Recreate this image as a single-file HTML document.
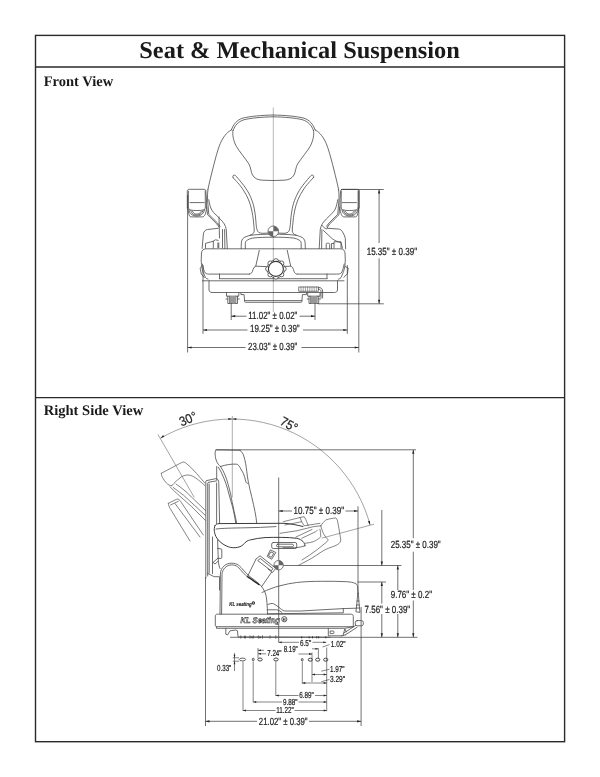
<!DOCTYPE html>
<html><head><meta charset="utf-8">
<style>
html,body{margin:0;padding:0;background:#fff;}
body{width:600px;height:777px;position:relative;overflow:hidden;font-family:"Liberation Sans",sans-serif;}
svg{position:absolute;left:0;top:0;}
text{text-rendering:geometricPrecision;}
.t{font-family:"Liberation Serif",serif;font-weight:bold;fill:#1a1a1a;}
.d{font-family:"Liberation Sans",sans-serif;fill:#222;font-size:10.4px;stroke:#222;stroke-width:0.22;}
.l{fill:none;stroke:#484848;stroke-width:0.8;stroke-linecap:round;stroke-linejoin:round;}
.g{fill:none;stroke:#888;stroke-width:0.6;}
.dm{fill:none;stroke:#333;stroke-width:0.7;}
</style></head><body>
<svg style="will-change:transform;opacity:0.999" width="600" height="777" viewBox="0 0 600 777">
<!-- FRAME -->
<g fill="none" stroke="#2a2a2a" stroke-width="1.4">
<rect x="35.5" y="35.4" width="529.1" height="706.3"/>
<line x1="35.5" y1="66.95" x2="564.6" y2="66.95"/>
<line x1="35.5" y1="397.6" x2="564.6" y2="397.6"/>
</g>
<text class="t" x="139.3" y="58.2" font-size="24" textLength="320.5" lengthAdjust="spacingAndGlyphs">Seat &amp; Mechanical Suspension</text>
<text class="t" x="43.7" y="85.5" font-size="14.6" textLength="69.5" lengthAdjust="spacingAndGlyphs">Front View</text>
<text class="t" x="43.7" y="415" font-size="14.6" textLength="99.5" lengthAdjust="spacingAndGlyphs">Right Side View</text>
<!-- FRONTVIEW_START -->
<g id="front">
<!-- centerline -->
<line class="g" x1="273.3" y1="107.5" x2="273.3" y2="312"/>
<!-- symmetric half (left), mirrored -->
<defs><g id="fh">
<!-- headrest top double line -->
<path class="l" d="M273,115 C262,115.3 250,116.2 242.5,118.2 C237,120 233.5,124 231.3,130"/>
<path class="l" d="M273,116.8 C262,117 251,118 243.8,119.8 C238.5,121.6 235,125 233,130.5"/>
<!-- shoulder outer -->
<path class="l" d="M231.3,130 C228,131.5 224.5,135 221.3,141.3 C218.5,147 216.3,155 212.5,170 C210.5,178 208.8,185 207.9,189.7"/>
<path class="l" d="M207.9,189.7 C207.6,192.5 207.5,195 207.5,198 C207.5,200 207.7,202 207.9,203.8 L208.75,214.3 L217.5,223 L220,226.3"/>
<path class="l" d="M208.75,199.7 C209.3,203 210,205.8 210.8,208 C211.5,209.7 212.3,211 213.3,212.2 L220,218.8 C221.6,220.4 223,222 224.2,223.8 C225.3,225.6 226,227.5 226.25,229.7 L227.3,248.6"/>
<path class="l" d="M206.8,207 L207.5,214.7 L216.7,223.8 L219.2,227.2"/>
<path class="l" d="M224.6,229.5 L224.9,248.6"/>
<!-- inner headrest panel -->
<path class="l" d="M233,130.5 C232.3,134 233,140 236.3,146.3 C239,151 245,158 248.8,163.8 C251,167.5 250.8,172 252.5,175 C254.5,178.5 258,180 262.5,180.2 L273,180.5"/>
<!-- Y ribs -->
<path class="l" d="M233.2,177.8 C232.4,176.6 232.8,175.5 233.9,175.2 C234.8,175 235.5,175.4 236.1,176.2 C240,180.6 243.5,185 245.8,188.3 C248,191.5 249.5,194.5 250.8,197.5 C252.5,201.5 253.5,205 254.2,208.3 C255,212.5 255.5,216 255.8,220 C256.1,223.5 256.2,226 256.7,228.3 C257.2,230.5 257.6,231.5 258.5,232.2 C259.6,233 261,233.3 262.5,233.3 L268,233.1"/>
<path class="l" d="M233.2,177.8 C235,179.7 236.3,181 237.5,182.5 C240,185.2 241.8,187.6 243.3,190 C245.3,193 247,196 248.3,199.2 C249.9,203 251,206.5 251.7,210 C252.5,214 253,217 253.3,220 C253.7,224 254.2,227.5 254.2,230 C254.2,231.6 254,232.5 253.3,233.3 C252.5,234.3 251.5,234.8 250,235.3 C248,236 246,236.6 244.2,237.5 C243,238.2 242.2,239.3 241.7,240.8 C241.3,242.5 241.2,245 241.2,248.6"/>
<!-- handle -->
<path class="l" d="M245.3,248.6 L245.3,243.3 C245.5,241.5 246.2,240.6 247.5,240 C249,239.1 250.6,238.5 252.5,238.1 C258,237.4 266,237.2 273.3,237.2"/>
<path class="l" d="M250,235.3 C256,234.5 264,234.2 273.3,234.2"/>
<!-- cushion -->
<path class="l" d="M273.3,248.8 L206,248.8 C203,249 201.7,250.5 201.5,253 L201.2,260 C201.3,263 201.6,266 202,268 C202.5,270.5 203.2,272.5 204,274 C204.5,275.5 205,276.6 205.5,277.5 C206.2,278.5 207,278.9 208,279.1"/>
<path class="l" d="M202.3,264 C203.3,268.5 204,271.5 205.3,273 C206.3,274 208,274.1 210,274.1 L249.3,274.1"/>
<path class="l" d="M219.5,274 L219.5,278.5"/>
<path class="l" d="M219.5,278.7 L273.3,278.7"/>
<!-- centre column -->
<path class="l" d="M259.3,250.3 L255.8,266 C255.3,266.8 254.7,267 254,267.4 C253.2,268.8 252.8,270.3 252.3,271.8 C251.6,273.3 250.6,274 249.3,274.1"/>
<path class="l" d="M255.8,266.2 L266.5,266.6"/>

<!-- base plate -->
<path class="l" d="M209,280.8 L209,290 C209.2,291.6 210.2,292.4 212,292.5 L273.3,292.5"/>
<path class="l" d="M202.5,280.8 L273.3,280.8"/>
<!-- bolt -->
<path class="l" d="M226.5,292.7 L226.5,296.2 L238.8,296.2 L238.8,292.7 M227.8,296.2 L227.8,303.5 L237.5,303.5 L237.5,296.2 M229.5,296.2 L229.5,303.5 M235.8,296.2 L235.8,303.5 M226,299 L227.8,299 M237.5,299 L239.3,299"/>
<path d="M229.5,296.2 h6.3 v7.3 h-6.3z" fill="#999" stroke="none"/>
<!-- armrest -->
<path class="l" d="M187.3,208 L187.3,191.2 C187.3,190 188,189.3 189.2,189.3 L204,189.3 C205.2,189.3 205.8,190 205.9,191.2 L206.5,200 L206.6,207.2 C206.4,210.5 205.8,213 205,214.7 C204.4,216 203.6,216.8 202.5,216.9 L190.8,216.9 C189.8,216.7 189.2,215.5 188.8,213.8 C188.3,212 188,210 187.9,208"/>
<path class="l" d="M190,202.6 L204.2,202.6"/>
<path class="l" d="M188.4,191 L188.4,207 C188.6,208.3 189,209.2 189.6,209.8 C194,210.8 200,210.8 204.2,209.8 C204.8,209.2 205.2,208.3 205.4,207 L205.2,191"/>
<path class="l" d="M188.8,209.8 C189.2,211.5 189.8,212.8 190.8,213.8 C192.3,215.3 194.3,216 196.7,216 C199,216 201,215.3 202.5,213.8 C203.5,212.8 204.2,211.5 204.6,209.8"/>
<path class="l" d="M190.8,210.6 C191.4,212.3 192.2,213.5 193.3,214.3 C194.3,214.9 195.4,215.1 196.7,215.1 C198.3,215.1 199.7,214.7 200.8,213.8 C201.8,213 202.5,211.9 203,210.6"/>
<path class="l" d="M192.5,211.3 C193.5,213.3 195,214.1 196.7,214.1 C198.6,214.1 200.2,213.2 201.3,211.3"/>
</g></defs>
<use href="#fh"/>
<use href="#fh" transform="translate(546.5,0) scale(-1,1)"/>
<!-- recliner left -->
<path class="l" d="M218.2,228.3 L207.5,229.5 C205,229.9 203.8,231.5 203.4,234 L202.1,248.5"/>
<path class="l" d="M205.5,248.2 L205.5,243.4 L213.3,241.2 L215.4,239.8 L218.2,240.4"/>
<path class="l" d="M213.3,241.2 L213.3,248.2"/>
<path class="l" d="M222.5,229.5 L222.5,248.2"/>
<path d="M217.3,242.5 h2 v5.5 h-2z" fill="#777"/>
<!-- recliner right -->
<path class="l" d="M327.6,228.3 L338.2,229 C340.5,229.3 341.8,230.3 342.5,231.9 C343.8,234 344.8,236 345.3,238.2 L345.6,248.9"/>
<path class="l" d="M323.4,230.5 L332.6,239 C335,240.8 338,241.8 341,242.5 L342.5,248.2"/>
<path class="l" d="M326.2,248.5 L326.2,244.2 C326.2,243.4 326.8,243.1 327.8,243.1 C329,243.1 329.7,243.5 329.7,244.3 L329.7,248.5"/>
<path class="l" d="M331.5,248.5 L331.5,243.5 L334,243.5 L334,241.8 L341,241.8 L341,248.2 M334,243.5 L334,248.2"/>
<path class="l" d="M322.6,225.7 C323.5,227.5 325,228.6 326.2,228.8 C327.2,228.8 327.5,228.2 327.6,227.4"/>
<!-- cushion tabs -->
<path class="l" d="M345.3,266.6 L348.2,268 L347.5,273.7 L343.9,277.2"/>
<path class="l" d="M201.3,266.6 L200.2,268.5 L201.3,274 L204.3,277.5"/>
<!-- lower plate -->
<path class="l" d="M240.9,293 L240.9,294.6 L244.1,294.6 L244.6,301.4 C244.7,302 245,302.3 245.6,302.3 L301,302.3 C301.6,302.3 301.9,302 301.9,301.4 L302.4,294.6 L306.5,294.6 L306.5,293"/>
<path class="l" d="M244.6,300.6 L301.9,300.6"/>
<!-- CG symbol -->
<circle cx="273.3" cy="231.3" r="5.3" fill="#fff" stroke="#555" stroke-width="0.8"/>
<path d="M273.3,231.3 L273.3,226 A5.3,5.3 0 0 1 278.6,231.3 Z M273.3,231.3 L273.3,236.6 A5.3,5.3 0 0 1 268,231.3 Z" fill="#666"/>
<!-- knob -->
<circle cx="275.90" cy="260.90" r="2.3" fill="#fff" stroke="#444" stroke-width="0.8"/>
<circle cx="281.56" cy="263.24" r="2.3" fill="#fff" stroke="#444" stroke-width="0.8"/>
<circle cx="283.90" cy="268.90" r="2.3" fill="#fff" stroke="#444" stroke-width="0.8"/>
<circle cx="281.56" cy="274.56" r="2.3" fill="#fff" stroke="#444" stroke-width="0.8"/>
<circle cx="275.90" cy="276.90" r="2.3" fill="#fff" stroke="#444" stroke-width="0.8"/>
<circle cx="270.24" cy="274.56" r="2.3" fill="#fff" stroke="#444" stroke-width="0.8"/>
<circle cx="267.90" cy="268.90" r="2.3" fill="#fff" stroke="#444" stroke-width="0.8"/>
<circle cx="270.24" cy="263.24" r="2.3" fill="#fff" stroke="#444" stroke-width="0.8"/>
<circle cx="275.9" cy="268.9" r="8.6" fill="#fff" stroke="none"/>
<path d="M277.87,260.22 A8.9,8.9 0 0 1 280.65,261.37 M283.43,264.15 A8.9,8.9 0 0 1 284.58,266.93 M284.58,270.87 A8.9,8.9 0 0 1 283.43,273.65 M280.65,276.43 A8.9,8.9 0 0 1 277.87,277.58 M273.93,277.58 A8.9,8.9 0 0 1 271.15,276.43 M268.37,273.65 A8.9,8.9 0 0 1 267.22,270.87 M267.22,266.93 A8.9,8.9 0 0 1 268.37,264.15 M271.15,261.37 A8.9,8.9 0 0 1 273.93,260.22" fill="none" stroke="#444" stroke-width="0.8"/>
<circle cx="275.9" cy="268.9" r="7.5" fill="none" stroke="#3a3a3a" stroke-width="1.15"/>
<!-- slider ribbed handle -->
<rect x="298.8" y="287" width="19.5" height="4.2" fill="#fff" stroke="#444" stroke-width="0.7"/>
<path class="l" style="stroke-width:0.5" d="M301,287 v4.2 M303.2,287 v4.2 M305.4,287 v4.2 M307.6,287 v4.2 M309.8,287 v4.2 M312,287 v4.2 M314.2,287 v4.2 M316.4,287 v4.2"/>
<path class="l" d="M318.3,287.3 C321,287.5 322.5,288.5 322.6,291 L322.6,298 M318.3,289 C320,289.2 321,290 321,291.5 L321,298"/>
<!-- left whip antenna-ish line -->
<path class="l" d="M219,217 L219.5,238" stroke-width="1"/>
<!-- DIMENSIONS -->
<g class="dm">
<line x1="231.2" y1="303" x2="231.2" y2="320"/><line x1="315" y1="303" x2="315" y2="320"/>
<line x1="203" y1="265" x2="203" y2="333.8"/><line x1="347.3" y1="265" x2="347.3" y2="333.8"/>
<line x1="187.6" y1="195" x2="187.6" y2="352.5"/><line x1="358.8" y1="190" x2="358.8" y2="352.5"/>
<line x1="231.2" y1="316.2" x2="246.5" y2="316.2"/><line x1="299.5" y1="316.2" x2="315" y2="316.2"/>
<line x1="203" y1="330" x2="247.5" y2="330"/><line x1="303" y1="330" x2="347.3" y2="330"/>
<line x1="187.6" y1="347.5" x2="245.5" y2="347.5"/><line x1="301.5" y1="347.5" x2="358.8" y2="347.5"/>
<line x1="341" y1="189.5" x2="383.8" y2="189.5"/><line x1="318" y1="303.8" x2="383.8" y2="303.8"/>
<line x1="379.1" y1="189.5" x2="379.1" y2="243"/><line x1="379.1" y1="258.3" x2="379.1" y2="303.8"/>
</g>
<g fill="#222">
<path d="M231.2,316.2 l4,-1.1 v2.2z M315,316.2 l-4,-1.1 v2.2z M203,330 l4,-1.1 v2.2z M347.3,330 l-4,-1.1 v2.2z M187.6,347.5 l4,-1.1 v2.2z M358.8,347.5 l-4,-1.1 v2.2z M379.1,189.5 l-1.1,4 h2.2z M379.1,303.8 l-1.1,-4 h2.2z"/>
</g>
<text class="d" x="248.3" y="319" textLength="49.1" lengthAdjust="spacingAndGlyphs">11.02" ± 0.02"</text>
<text class="d" x="250" y="332.3" textLength="49.7" lengthAdjust="spacingAndGlyphs">19.25" ± 0.39"</text>
<text class="d" x="248" y="350.3" textLength="49.4" lengthAdjust="spacingAndGlyphs">23.03" ± 0.39"</text>
<text class="d" x="366.7" y="255" textLength="50.3" lengthAdjust="spacingAndGlyphs">15.35" ± 0.39"</text>
</g>
<!-- FRONTVIEW_END -->
<!-- SIDEVIEW_START -->
<g id="side">
<!-- angle arc -->
<path class="dm" style="stroke:#666;stroke-width:0.6" d="M160.5,438.2 A143,143 0 0 1 370.1,525"/>
<line class="dm" style="stroke:#777;stroke-width:0.6" x1="232.3" y1="416" x2="232.3" y2="497.5"/>
<line class="dm" style="stroke:#666;stroke-width:0.6" x1="158" y1="434.5" x2="194.3" y2="497.5"/>
<line class="dm" style="stroke:#666;stroke-width:0.6" x1="374" y1="524.2" x2="321.7" y2="538.2"/>
<g fill="#222"><path d="M160.5,438.2 l2.6,-3.3 l1.1,1.9z M232.3,419 l-4,-1.1 v2.2z M232.3,419 l4,-1.1 v2.2z M370.1,525 l-2.2,-3.6 l2.1,-0.6z"/></g>
<text class="d" font-size="12" transform="translate(181.5,426.5) rotate(-23)" style="font-size:13px" textLength="18" lengthAdjust="spacingAndGlyphs">30°</text>
<text class="d" transform="translate(279,424) rotate(29)" style="font-size:13px" textLength="18" lengthAdjust="spacingAndGlyphs">75°</text>

<!-- extension & dimension lines -->
<g class="dm">
<line x1="215.5" y1="449.8" x2="416" y2="449.8"/>
<line x1="413.3" y1="449.8" x2="413.3" y2="538.2"/><line x1="413.3" y1="551.7" x2="413.3" y2="590"/><line x1="413.3" y1="600.5" x2="413.3" y2="637.3"/>
<line x1="282" y1="565.5" x2="401.5" y2="565.5"/>
<line x1="397.8" y1="565.5" x2="397.8" y2="590"/><line x1="397.8" y1="614" x2="397.8" y2="637.3"/>
<line x1="357.5" y1="582" x2="386" y2="582"/>
<line x1="381.8" y1="510" x2="381.8" y2="565.5"/><line x1="381.8" y1="582" x2="381.8" y2="603.5"/><line x1="381.8" y1="614" x2="381.8" y2="637.3"/>
<line x1="230" y1="637.3" x2="417.5" y2="637.3"/>
<line x1="278.7" y1="477.5" x2="278.7" y2="642.5"/>
<line x1="358" y1="506.3" x2="358" y2="594"/>
<line x1="361.1" y1="607" x2="361.1" y2="726"/>
<line x1="205.5" y1="577" x2="205.5" y2="726"/>
<line x1="278.7" y1="511" x2="292" y2="511"/><line x1="345.5" y1="511" x2="358" y2="511"/>
<line x1="205.5" y1="721.3" x2="257" y2="721.3"/><line x1="309" y1="721.3" x2="361.1" y2="721.3"/>
</g>
<g fill="#222"><path d="M413.3,449.8 l-1.1,4 h2.2z M413.3,637.3 l-1.1,-4 h2.2z M397.8,565.5 l-1.1,4 h2.2z M397.8,637.3 l-1.1,-4 h2.2z M381.8,582 l-1.1,4 h2.2z M381.8,565.5 l-1.1,-4 h2.2z M381.8,637.3 l-1.1,-4 h2.2z M278.7,511 l4,-1.1 v2.2z M358,511 l-4,-1.1 v2.2z M205.5,721.3 l4,-1.1 v2.2z M361.1,721.3 l-4,-1.1 v2.2z"/></g>
<text class="d" x="293.5" y="514.3" textLength="50.5" lengthAdjust="spacingAndGlyphs">10.75" ± 0.39"</text>
<text class="d" x="390.7" y="548" textLength="50" lengthAdjust="spacingAndGlyphs">25.35" ± 0.39"</text>
<text class="d" x="390.7" y="598.2" textLength="41.3" lengthAdjust="spacingAndGlyphs">9.76" ± 0.2"</text>
<text class="d" x="364.5" y="612.5" textLength="45.7" lengthAdjust="spacingAndGlyphs">7.56" ± 0.39"</text>
<text class="d" x="258.8" y="724.8" textLength="48.8" lengthAdjust="spacingAndGlyphs">21.02" ± 0.39"</text>
<!-- reclined ghost -->
<g class="l" style="stroke:#505050;stroke-width:0.7">
<path d="M161.3,473.3 L181.7,462.5 C183.3,461.8 184.5,462 185.8,463 C188.5,465 191,467.5 193.3,470 C195.8,472.6 198,475 200,477.5 L204.8,483"/>
<path d="M161.3,473.3 C161.5,475 161.8,476.3 162.5,477.5 C163.6,479.7 165,481.6 166.7,483.3 C168,484.7 169.8,485.5 171.7,485.8"/>
<path d="M171.7,485.8 C174.5,482.5 178,479.3 181.7,476.7 C183.8,475.5 186,475 188.3,475 C190.8,475.2 193,476.2 195,477.5 C198.2,479.7 201.5,482.5 204.8,485.5"/>
<path d="M170,486.7 C172,489 174.3,491.3 176.7,493.3 L191.7,506.7 L205.5,520.5"/>
<path d="M173.3,487.5 C176.5,490 180,492.5 183.3,495 L205.5,515.5"/>
<path d="M176,484 C179,486 183,489 186,491.7 L205.5,510.5"/>
<path d="M168.3,503.3 L176.7,499.2 C178.3,498.7 179.6,499.8 180.8,501.7 L203.3,535"/>
<path d="M168.3,503.3 C168.6,505.3 169.2,507 170,508.3 L190,541"/>
<path d="M170.5,505 L178.3,501.3 M175,503.5 L200,537"/>
</g>
<!-- folded ghost -->
<g class="l" style="stroke:#505050;stroke-width:0.7">
<path d="M320.8,525.8 C322.3,523.5 324,521.5 325.8,520 C329,518.8 332.5,518.2 335.8,518 C336.8,518.5 337.3,519.5 337.5,520.8 L339.2,530 L340.8,540 C340.7,541.5 340.2,542.5 339.2,543.3 C338,544.4 336.5,545.2 335,545.8 L328.3,548.3 C326,549.3 323.8,550.4 321.7,551.7 L311.7,558.3 L298.3,565.5"/>
<path d="M320.8,525.8 C321.5,528.5 322.3,531 323.3,533.3 C324.7,536 326.5,538.2 328.3,540 C327.5,541.3 326.3,542.4 325,543.3 L316.7,550 C312,553.5 307,557 302,560"/>
<path d="M283.3,521.7 L300,517.5 L304.2,516.7 C305.3,518.2 306,520 306.7,521.7 L308.3,525.8"/>
<path d="M285,525 L301.7,521.7 L304.2,525.8 L320,523.3"/>
<path d="M300,517.5 L301.7,521.7"/>
<path d="M280,533.3 L296.7,530.8 L313.3,526.7 L320.8,525.8"/>
<path d="M305,543.3 C308,543 310.8,542.5 313.3,541.7 C316.2,540.5 318.8,538.8 320.8,536.7 C320.8,534 320.5,531.5 320,529.2"/>
<path d="M301.7,538.3 L315.8,531.7 L317.5,530"/>
<path d="M296,537 L312,529.5"/>
</g>
<!-- upright backrest -->
<path class="l" d="M240,450.3 L217,449.8 C215.6,449.9 215.2,450.6 215.2,452 C215,455 215.3,458 216.5,461 C217.5,463.5 219,465.3 220.2,466.4"/>
<path class="l" d="M240,450.3 C241.8,451.5 243,453.5 243.8,456 C245.2,460.5 246.2,466 246.8,471.7 C247.2,475.5 247.7,478.5 248.3,481.7 C249.3,487 250.5,492 251.7,496.7 C253,502 254,507 255,511.7 C255.8,515.5 256.3,519 256.7,522.8"/>
<path class="l" d="M216.7,466.5 L216.7,479.5"/>
<path class="l" d="M220.2,466.6 C223,465.6 225.5,465 228.3,464.6 C231,464.2 234,463.9 236.7,464.2 C238.2,464.6 239.2,465.8 240,467.5 C241.2,469.5 242.3,471.3 243.3,473.3 C244.4,475.8 245.2,478.8 245.8,481.7 C246.2,482.8 246.8,483.3 247.6,483.3"/>
<path class="l" d="M218.3,467.3 C219.6,469 220.7,471 221.7,473.3 C223.2,476.5 224.6,479.8 225.8,483.3 C227.1,487 228.2,491 229.2,495 C230.3,499 231.4,502.5 232.5,506.7 C233.8,512 234.9,517.5 235.8,523.3"/>
<path class="l" d="M220.8,467 C222.5,469.5 223.8,472 225,475 C226.3,478.2 227.4,481.5 228.3,485 C229.3,488.5 230.1,491.5 230.8,495 C231.5,499 232.9,505.5 234.2,511.7 C235.1,515.5 236,519.5 236.7,523.3"/>
<!-- back plate -->
<path class="l" d="M205.8,578 L205.8,481.5 C205.8,480.8 206.3,480.6 207,480.5 L215.5,478.7 C216.8,478.6 217.6,479 218.2,480 C218.7,481 218.8,482 218.8,483.5 L219.6,523.5"/>
<path class="l" d="M207.7,576 L207.7,483.3 C207.7,482.6 208.2,482.3 209,482.2 L217,480.8"/>
<path class="l" d="M209.2,573 L209.2,484"/>
<path class="l" d="M216.6,483 L216.6,523.5"/>
<path class="l" d="M207.5,573.3 L214.2,576.7 L219.5,576.7 L219.5,590"/>
<path class="l" d="M212.5,573.5 L212.5,537 "/>
<!-- armrest -->
<path class="l" style="stroke:#3a3a3a;stroke-width:1" d="M215,525.6 C215.5,524.5 217,523.8 219,523.6 L283,523.3 C290,523.5 296,524.8 303,526.5"/>
<path class="l" style="stroke:#3a3a3a;stroke-width:1" d="M215,525.6 C214.2,527.5 214.1,529.5 214.4,531.5 C214.8,534 215.5,536 216.8,538 C218.3,540.3 220,542 222,543.4 C224.5,545.2 227.5,546.7 230.5,547.4 C233.5,548 237,547.8 240,546.7 C242.5,545.7 244.2,543.5 246,541.8 C247.6,540.5 249,540.2 250.5,539.9 C255,538.7 260,538 265,537.6 C270.5,537.3 276,537.3 281.7,537.4 C287,537.5 292,537.6 296.7,538.3 C299.5,538.8 301.5,540 303,541.5 C304.2,542.8 304.8,544.2 305,545.8"/>
<path class="l" d="M216,529 C222,528.3 232,528 245,527.8 C255,527.6 266,527.3 276,526.6"/>
<path class="l" d="M305,545.8 C300,547.5 296,547.8 291,547.8 L283,547.8"/>
<!-- under armrest -->
<path class="l" d="M217.6,540 L218.3,560 C218.5,563.5 219,566.5 220,568.5"/>
<path class="l" d="M217.5,548.3 L221.2,549 C221.7,549.1 221.8,549.5 221.8,550 L221.8,557.5 C221.8,558.2 221.5,558.4 221,558.4 L217.8,558.4"/>
<path class="l" d="M217.5,558.5 L213,562.5 L215,564 L217.8,561.5"/>
<!-- side cover -->
<path class="l" d="M220,614 L220.4,574 C220.5,570.5 221.8,568 224.2,565.8 C226.3,564 229,563.2 231.7,563.2 C234.5,563.2 236.6,563.9 238.3,565 C240.5,566.7 242,568.5 243.3,570 C245.5,572.5 247.5,574.7 250,576.7 C253,579 256,581 259,583.7 C262,586.5 264.3,590 265.6,594 C266.8,598 267.3,606 267.5,614"/>
<path class="l" d="M221.6,614 L222,574.5 C222.2,571.5 223.2,569.5 225.2,567.5 C227,565.8 229.3,564.9 231.7,564.9 C234,564.9 236,565.5 237.5,566.7 C239.5,568.3 241,570.3 242.5,572 C244.5,574.3 246.5,576.3 249,578.2"/>
<path d="M247.2,576.3 L259.5,585" fill="none" stroke="#222" stroke-width="1.4"/>
<!-- seat cushion -->
<path class="l" d="M262,592.5 C268,589.5 274,587.3 280,585.8 C285.5,584.3 291,583.2 296.7,582.5 C305,581.6 313,581.3 321.7,581.3 C330,581.2 338.5,581.3 346.7,581.7 C350,581.9 353,582.4 355,583.3 C356.7,584.1 357.4,585 357.6,586.5 L358,593.3"/>
<path class="l" d="M267.8,604.5 C270,603.6 271.8,603.3 273.3,603.6 C275.5,604.5 277,606 278.9,607.3 C280.8,608.8 282.5,610.4 284.4,611 L300.9,611 L343,608.6 L356,608.2"/>
<path class="l" d="M357.8,593.3 L356.7,605 L355.9,611.8 L360,612.4 L359.2,605 L358.3,593.3 M356.7,605 L359.2,605 M356.4,608 L359.5,608 M357,601 L358.9,601"/>
<path class="l" d="M343.3,608.5 L343.3,612.8 L268,613.8"/>
<path class="l" d="M267.3,609.8 L276.5,609.8 C279,610.3 280.5,611.2 282,612.5"/>
<!-- base platform -->
<path class="l" d="M219,614.2 L351.5,614.2 C352.6,614.3 353.2,615 353.3,616.5 L353.3,626.7 L216.5,626.7 C215.6,626.6 215.3,626 215.3,625 L215.3,616 C215.4,614.8 216,614.3 217,614.2 Z"/>
<path class="l" d="M216.5,626.7 L216.5,628.3 L345,628.3 L353.3,626.7"/>
<!-- under base -->
<path class="l" d="M225.8,628.3 L225.8,634.2 L227.5,635 L230,630.8 L235.8,630 L237.5,630.8 L238,636.9 L330,637.2"/>
<path class="l" d="M240.8,635.8 v2.4 M245,635.8 v2.4 M250,635.8 v2.4 M253.3,635.8 v2.4 M258.3,635.8 v2.4 M262.5,635.8 v2.4 M270,635.8 v2.4 M275.8,635.8 v2.4"/>
<path class="l" d="M328.3,628.5 L328.3,635.8 L341.7,635.8 M330.5,631 L333,631 C333.8,631 334,631.5 334,632.3 C334,633.2 333.6,633.6 333,633.6 L330.5,633.6 Z"/>
<path class="l" d="M344.2,632.8 L355.6,625.5 M345.5,634.8 L357,627.3 M341.7,635.8 L345.5,634.8 M343,635.5 L344.8,629 L346.5,632"/>
<rect class="l" x="355.3" y="620.6" width="8" height="5.2" rx="1.8"/>
<!-- KL seating text -->
<text x="229.2" y="605.9" font-family="Liberation Sans, sans-serif" font-weight="bold" font-style="italic" font-size="5.6" fill="#222" stroke="#222" stroke-width="0.15" textLength="22.5" lengthAdjust="spacingAndGlyphs">KL seating</text>
<circle cx="253.4" cy="603" r="1.7" fill="#333"/><circle cx="253.4" cy="603" r="0.7" fill="#ccc"/>
<text x="240.5" y="623.4" font-family="Liberation Sans, sans-serif" font-weight="bold" font-style="italic" font-size="8.2" fill="#fff" stroke="#444" stroke-width="0.6" textLength="39.5" lengthAdjust="spacingAndGlyphs">KL Seating</text>
<circle cx="284.3" cy="619.2" r="2.6" fill="none" stroke="#333" stroke-width="0.8"/><text x="282.8" y="620.8" font-family="Liberation Sans, sans-serif" font-weight="bold" font-size="4.2" fill="#222">R</text>
<!-- belt buckle -->
<rect class="l" x="271.7" y="542.5" width="25" height="6" rx="1.6" fill="#fff"/>
<rect class="l" x="276.5" y="544.2" width="17" height="2.6" rx="1.3"/>
<path class="l" d="M270.8,550 L275.8,552.5 L271.7,559.2 L267.5,556.7 Z M271.2,552 L273.8,553.3 L271.3,557.3 L268.8,556 Z" fill="#fff"/>
<path class="l" d="M255.8,559.2 L260,555.8 L275.8,568.3 L272.5,572.5 L268,569" fill="none"/>
<path class="l" d="M258,560.3 L260.3,558.5 L273,568.6 L271.5,570.5 Z"/>
<path class="l" d="M255.8,559.5 L247.5,576.5 M271.5,572.3 L261.7,586.5"/>
<!-- CG -->
<circle cx="278.6" cy="565.2" r="4.7" fill="#fff" stroke="#555" stroke-width="0.8"/>
<path d="M278.6,565.2 L278.6,560.5 A4.7,4.7 0 0 1 283.3,565.2 Z M278.6,565.2 L278.6,569.9 A4.7,4.7 0 0 1 273.9,565.2 Z" fill="#666"/>

<!-- holes & small dims -->
<g class="dm" style="stroke-width:0.6">
<g style="stroke-width:0.95;stroke:#3a3a3a">
<ellipse cx="242.5" cy="659.5" rx="3.2" ry="1.4" style="stroke-width:0.8"/>
<ellipse cx="253.2" cy="659.5" rx="0.9" ry="1.2"/>
<ellipse cx="260" cy="659.5" rx="2.2" ry="1.5"/>
<ellipse cx="276" cy="659.5" rx="2.2" ry="1.5"/>
<ellipse cx="302.2" cy="659.7" rx="0.9" ry="1.2"/>
<ellipse cx="310.3" cy="659.7" rx="2.1" ry="1.5"/>
<ellipse cx="317.7" cy="659.7" rx="2.1" ry="1.5"/>
<ellipse cx="325.7" cy="659.7" rx="2.1" ry="1.5"/>
</g>
<!-- 0.33 -->
<line x1="234.5" y1="653" x2="234.5" y2="671"/><line x1="232.8" y1="657.8" x2="239" y2="657.8"/><line x1="232.8" y1="661.2" x2="239" y2="661.2"/>
<!-- 6.5 -->
<line x1="278.7" y1="642.3" x2="299" y2="642.3"/><line x1="312.5" y1="642.3" x2="326.3" y2="642.3"/>
<line x1="322.5" y1="647" x2="329.5" y2="644.6"/>
<!-- 7.24 -->
<line x1="258" y1="648" x2="258" y2="658"/><line x1="258" y1="650.3" x2="264" y2="650.3"/><line x1="258" y1="653.8" x2="266" y2="653.8"/>
<!-- 8.19 -->
<line x1="298.5" y1="654" x2="312" y2="654"/><line x1="312" y1="652.5" x2="312" y2="682"/>
<line x1="318.4" y1="648.5" x2="318.4" y2="658"/><line x1="312" y1="648.8" x2="318.4" y2="648.8"/>
<line x1="326.7" y1="647.5" x2="326.7" y2="711.3"/>
<!-- 1.97 / 3.29 -->
<line x1="321.3" y1="671.2" x2="329.5" y2="669.3"/><line x1="312" y1="674.5" x2="326.7" y2="674.5"/>
<line x1="321.3" y1="681.7" x2="329.5" y2="679.5"/><line x1="302.3" y1="683" x2="326.7" y2="683"/>
<line x1="302.3" y1="661.5" x2="302.3" y2="683.8"/>
<!-- 6.89 -->
<line x1="275.8" y1="661.5" x2="275.8" y2="696"/><line x1="275.8" y1="695.5" x2="298.5" y2="695.5"/><line x1="315" y1="695.5" x2="326.7" y2="695.5"/>
<!-- 9.88 -->
<line x1="253.2" y1="661.5" x2="253.2" y2="702.5"/><line x1="253.2" y1="702" x2="282" y2="702"/><line x1="298.5" y1="702" x2="326.7" y2="702"/>
<!-- 11.22 -->
<line x1="243" y1="661.5" x2="243" y2="711"/><line x1="243" y1="710.5" x2="275.5" y2="710.5"/><line x1="294.5" y1="710.5" x2="326.7" y2="710.5"/>
<!-- ticks on bottom line -->
<path d="M301.7,636.3 v2 M309.2,636.3 v2 M312.5,636.3 v2 M316.7,636.3 v2 M318.7,636.3 v2 M325.8,636.3 v2 M252,636.3 v2 M260,636.3 v2 M245,636.3 v2" stroke-width="1"/>
</g>
<g fill="#222"><path d="M278.7,642.3 l3,-0.9 v1.8z M326.3,642.3 l-3,-0.9 v1.8z M312,654 l-3,-0.9 v1.8z M258,653.8 l3,-0.9 v1.8z M258,650.3 l3,-0.9 v1.8z M326.7,695.5 l-3,-0.9 v1.8z M275.8,695.5 l3,-0.9 v1.8z M326.7,702 l-3,-0.9 v1.8z M253.2,702 l3,-0.9 v1.8z M326.7,710.5 l-3,-0.9 v1.8z M243,710.5 l3,-0.9 v1.8z M326.7,674.5 l-3,-0.9 v1.8z M312,674.5 l3,-0.9 v1.8z M326.7,683 l-3,-0.9 v1.8z M302.3,683 l3,-0.9 v1.8z M234.5,657.8 l-0.9,-3 h1.8z M234.5,661.2 l-0.9,3 h1.8z M318.4,648.8 l-3,-0.9 v1.8z"/></g>
<g class="d" style="font-size:8.7px">
<text x="300" y="645.6" textLength="11.2" lengthAdjust="spacingAndGlyphs">6.5"</text>
<text x="330.8" y="646.6" textLength="14.8" lengthAdjust="spacingAndGlyphs">1.02"</text>
<text x="267.3" y="655.6" textLength="14.2" lengthAdjust="spacingAndGlyphs">7.24"</text>
<text x="283.7" y="651.9" textLength="14" lengthAdjust="spacingAndGlyphs">8.19"</text>
<text x="217" y="670.8" textLength="14.3" lengthAdjust="spacingAndGlyphs">0.33"</text>
<text x="330" y="672" textLength="14.5" lengthAdjust="spacingAndGlyphs">1.97"</text>
<text x="330" y="682.3" textLength="15" lengthAdjust="spacingAndGlyphs">3.29"</text>
<text x="299.3" y="698.2" textLength="14.5" lengthAdjust="spacingAndGlyphs">6.89"</text>
<text x="283" y="704.8" textLength="14.5" lengthAdjust="spacingAndGlyphs">9.88"</text>
<text x="276.3" y="713.3" textLength="17.5" lengthAdjust="spacingAndGlyphs">11.22"</text>
</g>

</g>
<!-- SIDEVIEW_END -->
</svg>
</body></html>
